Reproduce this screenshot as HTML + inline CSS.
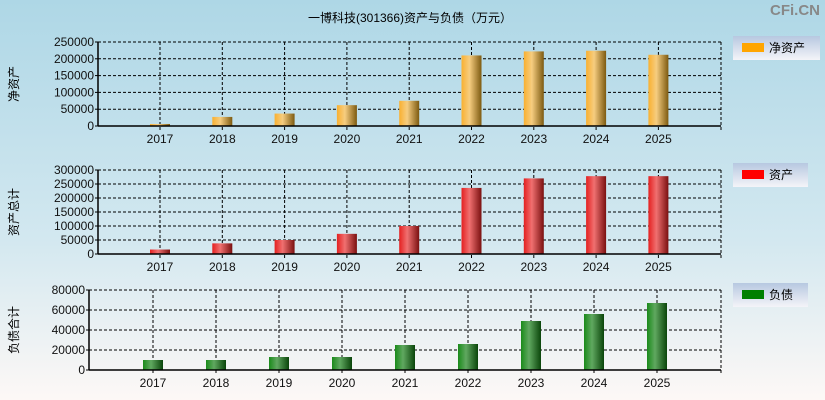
<!DOCTYPE html>
<html><head><meta charset="utf-8">
<style>
body{margin:0;width:825px;height:400px;overflow:hidden;font-family:"Liberation Sans","Noto Sans CJK SC",sans-serif;}
svg{display:block}
</style></head>
<body>
<svg id="c" width="825" height="400" xmlns="http://www.w3.org/2000/svg">
<defs>
<linearGradient id="bg" x1="0" y1="0" x2="0" y2="1">
<stop offset="0" stop-color="#aed7e6"/><stop offset="0.6" stop-color="#d3e8f0"/><stop offset="1" stop-color="#fdf8f6"/></linearGradient>
<linearGradient id="lg" x1="0" y1="0" x2="0" y2="1"><stop offset="0" stop-color="#b7c8e0"/><stop offset="1" stop-color="#f4f4f8"/></linearGradient>
<linearGradient id="gO" x1="0" x2="1"><stop offset="0" stop-color="#f9b030"/><stop offset="0.4" stop-color="#f6cd80"/><stop offset="1" stop-color="#7d5a10"/></linearGradient>
<linearGradient id="gR" x1="0" x2="1"><stop offset="0" stop-color="#e42020"/><stop offset="0.4" stop-color="#f07070"/><stop offset="1" stop-color="#7a1010"/></linearGradient>
<linearGradient id="gG" x1="0" x2="1"><stop offset="0" stop-color="#1a8a1a"/><stop offset="0.4" stop-color="#60a860"/><stop offset="1" stop-color="#0a450a"/></linearGradient>
</defs>
<rect width="825" height="400" fill="url(#bg)"/>
<text x="410" y="22" font-size="12" text-anchor="middle">一博科技(301366)资产与负债（万元）</text>
<text x="820" y="15" font-size="15" font-weight="bold" fill="#888" text-anchor="end">CFi.CN</text>
</svg>
<script>
const years=['2017','2018','2019','2020','2021','2022','2023','2024','2025'];
const netAssets=[6000,27000,37000,62000,75000,210000,222000,224000,212000];
const assets=[16000,38000,50000,72000,100000,236000,270000,278000,278000];
const liabilities=[10000,10000,13000,13000,25000,26000,49000,56000,67000];
const ticks1=[0,50000,100000,150000,200000,250000];
const ticks2=[0,50000,100000,150000,200000,250000,300000];
const ticks3=[0,20000,40000,60000,80000];
const svg=document.getElementById('c');
const NS='http://www.w3.org/2000/svg';
function mk(t,a,txt){const e=document.createElementNS(NS,t);for(const k in a)e.setAttribute(k,a[k]);if(txt!=null)e.textContent=txt;svg.appendChild(e);return e;}
const panels=[
{id:'net-assets',vals:netAssets,ticks:ticks1,max:250000,x0:98,x1:721,y0:42,y1:126,fx:160,step:62.3,fill:'url(#gO)',col:'#ffa500',ylab:'净资产',leg:'净资产',lx:733,ly:36,lw:87},
{id:'assets',vals:assets,ticks:ticks2,max:300000,x0:98,x1:721,y0:170,y1:254,fx:160,step:62.3,fill:'url(#gR)',col:'#ff0000',ylab:'资产总计',leg:'资产',lx:733,ly:163,lw:75},
{id:'liabilities',vals:liabilities,ticks:ticks3,max:80000,x0:89,x1:721,y0:290,y1:370,fx:153,step:63,fill:'url(#gG)',col:'#008000',ylab:'负债合计',leg:'负债',lx:733,ly:283,lw:75}];
panels.forEach(p=>{
 const ys=v=>p.y1-(v/p.max)*(p.y1-p.y0);
 const xs=i=>p.fx+i*p.step;
 p.ticks.forEach(t=>{const y=ys(t);
  if(t>0){const l=mk('line',{x1:p.x0,x2:p.x1,y1:y,y2:y,stroke:'#000','stroke-dasharray':'3,2'});}
  const tx=mk('text',{x:p.x0-4,y:y+4,'font-size':12,'text-anchor':'end',fill:'#111'},t);
  
  mk('line',{x1:p.x0-3,x2:p.x0,y1:y,y2:y,stroke:'#000'});
 });
 years.forEach((yr,i)=>{const x=xs(i);
  const g=mk('line',{x1:x,x2:x,y1:p.y0,y2:p.y1+4,stroke:'#000','stroke-dasharray':'3,2'});
  
  const b=mk('rect',{x:x-10,y:ys(p.vals[i]),width:20,height:p.y1-ys(p.vals[i]),fill:p.fill});
  
  const t=mk('text',{x:x,y:p.y1+17,'font-size':12,'text-anchor':'middle',fill:'#111'},yr);
  
 });
 mk('line',{x1:p.x1,x2:p.x1,y1:p.y0,y2:p.y1+4,stroke:'#000','stroke-dasharray':'3,2'});
 mk('line',{x1:p.x0,x2:p.x1,y1:p.y0,y2:p.y0,stroke:'#000','stroke-dasharray':'3,2'});
 mk('line',{x1:p.x0,x2:p.x0,y1:p.y0,y2:p.y1,stroke:'#000','stroke-width':1.5});
 mk('line',{x1:p.x0,x2:p.x1,y1:p.y1,y2:p.y1,stroke:'#000','stroke-width':1.5});
 const cy=(p.y0+p.y1)/2;
 const yl=mk('text',{x:0,y:0,'font-size':12,'text-anchor':'middle',transform:`translate(18,${cy}) rotate(-90)`},p.ylab);
 
 const lb=mk('rect',{x:p.lx,y:p.ly,width:p.lw,height:24,fill:'url(#lg)'});
 
 mk('rect',{x:p.lx+9,y:p.ly+7,width:22,height:9,fill:p.col});
 const lt=mk('text',{x:p.lx+36,y:p.ly+16,'font-size':12},p.leg);
 
});
</script>
</body></html>
